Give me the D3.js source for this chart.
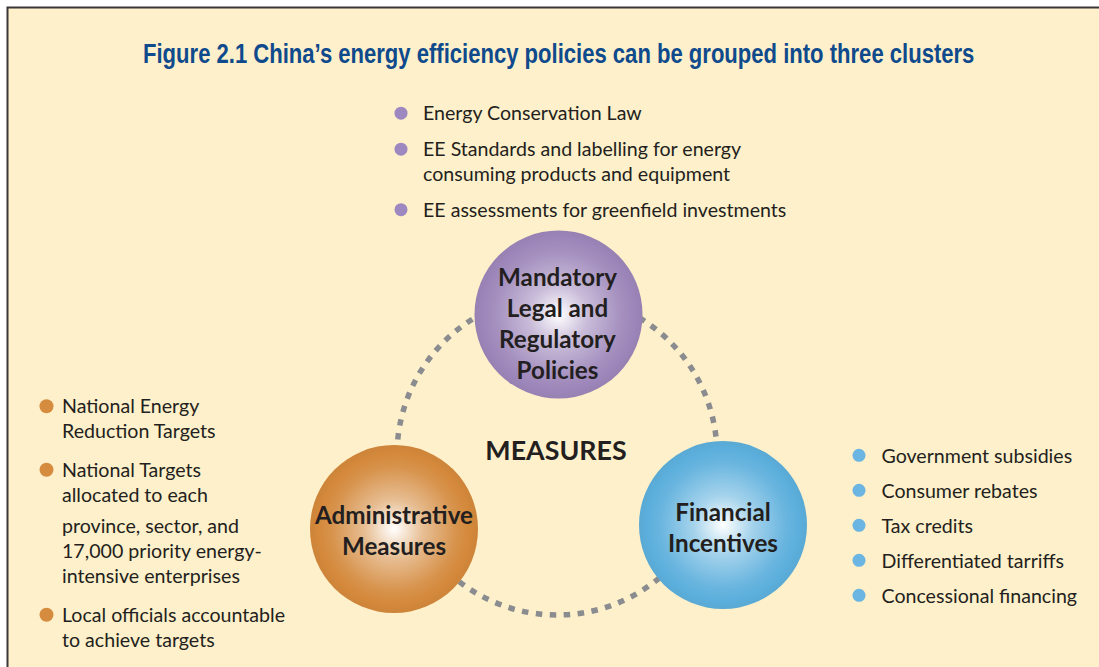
<!DOCTYPE html>
<html><head><meta charset="utf-8">
<script src="https://cdn.jsdelivr.net/npm/d3@7"></script>
<style>html,body{margin:0;padding:0;background:#fff;}</style>
</head><body>
<svg id="chart" width="1099" height="667"></svg>
<script>
// ---------- data ----------
const title = "Figure 2.1 China\u2019s energy efficiency policies can be grouped into three clusters";
const centerLabel = "MEASURES";
const clusterNames = ["Mandatory", "Administrative", "Financial"];
const clusterLabels = [
  ["Mandatory", "Legal and", "Regulatory", "Policies"],
  ["Administrative", "Measures"],
  ["Financial", "Incentives"]
];
const clusterColors = ["#9d86b9", "#d4893b", "#5cafdc"];
const mandatoryItems = [
  ["Energy Conservation Law"],
  ["EE Standards and labelling for energy", "consuming products and equipment"],
  ["EE assessments for greenfield investments"]
];
const administrativeItems = [
  ["National Energy", "Reduction Targets"],
  ["National Targets", "allocated to each", "province, sector, and", "17,000 priority energy-", "intensive enterprises"],
  ["Local officials accountable", "to achieve targets"]
];
const financialItems = [
  ["Government subsidies"],
  ["Consumer rebates"],
  ["Tax credits"],
  ["Differentiated tarriffs"],
  ["Concessional financing"]
];

// ---------- layout ----------
const svg = d3.select("#chart");
const W = 1099, H = 667;
const textColor = "#231f20";
const font = "Lato, 'Open Sans', sans-serif";

svg.append("rect").attr("x", 7.5).attr("y", 7.5).attr("width", W + 10).attr("height", H + 10)
  .attr("fill", "#fef0ca").attr("stroke", "#3a3536").attr("stroke-width", 2);

// title: natural width measured, then squeezed horizontally to the reference width
const titleText = svg.append("text").attr("x", 0).attr("y", 0)
  .attr("font-family", "'Liberation Sans Narrow', 'Arial Narrow', sans-serif")
  .attr("font-weight", "bold").attr("font-size", 27).attr("fill", "#0f4a8d")
  .text(title);
const natW = titleText.node().getComputedTextLength();
const targetW = 832;
titleText.attr("transform", `translate(${559 - targetW / 2},62.5) scale(${targetW / natW},1)`);

// dotted ring
const ring = {cx: 557, cy: 455, r: 160};
svg.append("circle").attr("cx", ring.cx).attr("cy", ring.cy).attr("r", ring.r)
  .attr("fill", "none").attr("stroke", "#8a8c8f").attr("stroke-width", 5.5)
  .attr("stroke-dasharray", "6.5,7.5");

svg.append("text").attr("x", 556).attr("y", 459.5).attr("text-anchor", "middle")
  .attr("font-family", font).attr("font-weight", "bold").attr("font-size", 26.8)
  .attr("fill", textColor).text(centerLabel);

// gradients
const defs = svg.append("defs");
clusterColors.forEach((c, i) => {
  const g = defs.append("radialGradient").attr("id", "grad" + i)
    .attr("cx", "50%").attr("cy", "50%").attr("r", "50%");
  const interp = d3.interpolateRgb("#ffffff", c);
  g.append("stop").attr("offset", "0%").attr("stop-color", "#ffffff");
  g.append("stop").attr("offset", "35%").attr("stop-color", interp(0.55));
  g.append("stop").attr("offset", "75%").attr("stop-color", interp(0.92));
  g.append("stop").attr("offset", "90%").attr("stop-color", c);
  g.append("stop").attr("offset", "100%").attr("stop-color", d3.color(c).darker(0.1));
});

const circlePos = [
  {cx: 558.5, cy: 314.5, firstBaseline: 286, lh: 31},
  {cx: 394, cy: 529, firstBaseline: 524, lh: 31},
  {cx: 723, cy: 525, firstBaseline: 520.5, lh: 31.5}
];
const R = 84;
const circles = svg.selectAll("g.cluster").data(clusterNames).join("g").attr("class", "cluster");
circles.append("circle")
  .attr("cx", (d, i) => circlePos[i].cx).attr("cy", (d, i) => circlePos[i].cy).attr("r", R)
  .attr("fill", (d, i) => `url(#grad${i})`);
circles.each(function(d, i) {
  const p = circlePos[i];
  d3.select(this).selectAll("text").data(clusterLabels[i]).join("text")
    .attr("x", i === 0 ? p.cx - 1 : p.cx)
    .attr("y", (t, j) => p.firstBaseline + j * p.lh)
    .attr("text-anchor", "middle").attr("font-family", font).attr("font-weight", "bold")
    .attr("font-size", 24.2).attr("fill", textColor).text(t => t);
});

// bullet lists
function bulletList(items, opt) {
  const g = svg.append("g");
  let y = opt.y0;
  items.forEach((lines, k) => {
    g.append("circle").attr("cx", opt.bx).attr("cy", y - opt.bulletOff).attr("r", opt.br)
      .attr("fill", opt.color);
    lines.forEach((t, j) => {
      g.append("text").attr("x", opt.tx).attr("y", y)
        .attr("font-family", font).attr("font-size", opt.fs).attr("fill", textColor).text(t);
      if (j < lines.length - 1) y += (opt.innerGaps ? opt.innerGaps[k][j] : opt.lh);
    });
    y += opt.gap;
  });
}
const bulletFs = 19.6;
bulletList(mandatoryItems, {bx: 401, tx: 423, y0: 120, lh: 24.5, gap: 36, fs: bulletFs, br: 6.5,
  bulletOff: 6.8, color: "#9d88c0"});
bulletList(administrativeItems, {bx: 46.5, tx: 62, y0: 413.3, lh: 25, gap: 38.4, fs: bulletFs, br: 7,
  bulletOff: 7, color: "#d68c3e",
  innerGaps: [[25], [25, 31.6, 25, 25], [25]]});
bulletList(financialItems, {bx: 859, tx: 881.5, y0: 463.3, lh: 25, gap: 35, fs: bulletFs, br: 6.5,
  bulletOff: 8, color: "#6ab5e1"});
</script>
</body></html>
